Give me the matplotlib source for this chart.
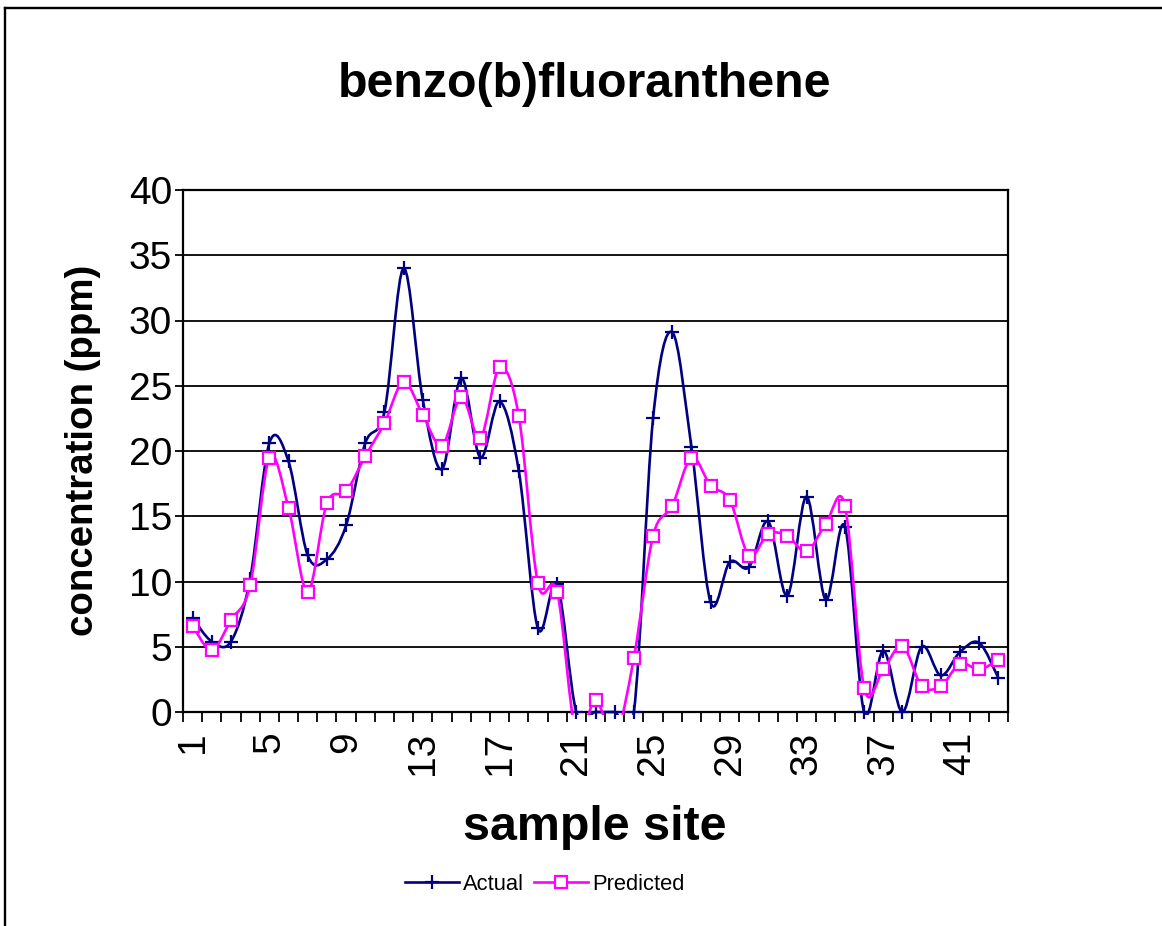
import matplotlib
matplotlib.use('Agg')
import matplotlib.pyplot as plt
from matplotlib.path import Path
from matplotlib.patches import PathPatch, Rectangle
from matplotlib.lines import Line2D
import numpy as np

plt.rcParams['font.family'] = ['Liberation Sans', 'DejaVu Sans']

sites = list(range(1, 44))
actual = [7.2, 5.4, 5.4, 10.2, 20.6, 19.2, 12.0, 11.7, 14.3, 20.6,
          23.0, 34.0, 23.9, 18.6, 25.6, 19.5, 23.8, 18.5, 6.4, 9.8,
          0.0, 0.0, 0.0, 0.0, 22.5, 29.1, 20.3, 8.4, 11.5, 11.1,
          14.6, 8.9, 16.5, 8.6, 14.2, 0.0, 4.7, 0.0, 5.0, 2.8,
          4.6, 5.3, 2.6]
predicted = [6.6, 4.75, 7.05, 9.7, 19.5, 15.65, 9.2, 16.0, 16.9, 19.6,
             22.15, 25.3, 22.75, 20.4, 24.15, 21.0, 26.4, 22.7, 9.85, 9.2,
             -1.8, 0.95, -2.0, 4.15, 13.5, 15.8, 19.5, 17.35, 16.25, 11.98,
             13.65, 13.5, 12.3, 14.4, 15.8, 1.86, 3.27, 5.07, 2.0, 2.0,
             3.7, 3.27, 3.98]
label_sites = [1, 5, 9, 13, 17, 21, 25, 29, 33, 37, 41]
yticks = [0, 5, 10, 15, 20, 25, 30, 35, 40]

NAVY = '#000080'
MAGENTA = '#FF00FF'


def smooth_path(xs, ys):
    pts = np.column_stack([xs, ys]).astype(float)
    n = len(pts)
    verts = [pts[0]]
    codes = [Path.MOVETO]
    for i in range(n - 1):
        p0 = pts[i - 1] if i > 0 else pts[i]
        p1 = pts[i]
        p2 = pts[i + 1]
        p3 = pts[i + 2] if i + 2 < n else pts[i + 1]
        c1 = p1 + (p2 - p0) / 6.0
        c2 = p2 - (p3 - p1) / 6.0
        verts += [c1, c2, p2]
        codes += [Path.CURVE4] * 3
    return Path(verts, codes)


W, H = 1162, 926
fig = plt.figure(figsize=(W / 100, H / 100), dpi=100)
fig.patch.set_facecolor('white')

ax = fig.add_axes([183 / W, 1 - 712 / H, (1008 - 183) / W, (712 - 190) / H])
ax.set_xlim(0.5, 43.5)
ax.set_ylim(0, 40)

# gridlines
ax.set_yticks(yticks)
ax.yaxis.grid(True, color='black', linewidth=1.3)
ax.set_axisbelow(True)

# clip region slightly taller than the plot area so lines at 0 stay visible
clip_rect = Rectangle((0, -0.005), 1, 1.01, transform=ax.transAxes,
                      facecolor='none', edgecolor='none')

# actual smoothed line
pa = PathPatch(smooth_path(sites, actual), fill=False, edgecolor=NAVY,
               linewidth=1.9, zorder=3, capstyle='round', joinstyle='round')
ax.add_patch(pa)
pa.set_clip_path(clip_rect)
ax.plot(sites, actual, linestyle='none', marker='+', markersize=9.5,
        markeredgewidth=1.6, color=NAVY, zorder=4, clip_on=False)

# predicted smoothed line
pp = PathPatch(smooth_path(sites, predicted), fill=False, edgecolor=MAGENTA,
               linewidth=1.9, zorder=5, capstyle='round', joinstyle='round')
ax.add_patch(pp)
pp.set_clip_path(clip_rect)
ax.plot(sites, predicted, linestyle='none', marker='s', markersize=8.5,
        markeredgewidth=1.6, markerfacecolor='white',
        markeredgecolor=MAGENTA, zorder=6)

for s in ax.spines.values():
    s.set_linewidth(1.6)
    s.set_color('black')

# x ticks: marks between categories, labels every 4th
ax.set_xticks([k + 0.5 for k in range(0, 44)])
ax.set_xticklabels([])
ax.set_xticks(label_sites, minor=True)
ax.set_xticklabels([str(v) for v in label_sites], minor=True, rotation=90,
                   fontsize=28)
ax.tick_params(axis='x', which='major', direction='out', length=7.5,
               width=1.3, color='black')
ax.tick_params(axis='x', which='minor', length=0, pad=14)
ax.tick_params(axis='y', which='major', direction='out', length=6,
               width=1.3, labelsize=28, pad=2)

# texts
fig.text(585 / W, 1 - 97 / H, 'benzo(b)fluoranthene', ha='center',
         va='baseline', fontsize=34.8, fontweight='bold')
fig.text(595 / W, 1 - 840 / H, 'sample site', ha='center', va='baseline',
         fontsize=34.8, fontweight='bold')
fig.text(83 / W, 1 - 450 / H, 'concentration (ppm)', ha='center',
         va='center', rotation=90, fontsize=27.6, fontweight='bold')

# legend
handles = [
    Line2D([], [], color=NAVY, linewidth=1.9, marker='+', markersize=9.5,
           markeredgewidth=1.6),
    Line2D([], [], color=MAGENTA, linewidth=1.9, marker='s',
           markersize=8.5, markeredgewidth=1.6, markerfacecolor='white',
           markeredgecolor=MAGENTA),
]
fig.legend(handles, ['Actual', 'Predicted'], loc='center',
           bbox_to_anchor=(545 / W, 1 - 884 / H), ncol=2, frameon=False,
           fontsize=15.8, handlelength=2.45, handletextpad=0.2,
           columnspacing=0.45, borderpad=0, borderaxespad=0)

# chart border (left and top)
fig.add_artist(Line2D([5 / W, 5 / W], [0, 1 - 7.8 / H], color='black',
                      linewidth=1.7, transform=fig.transFigure))
fig.add_artist(Line2D([5 / W, 1], [1 - 7.8 / H, 1 - 7.8 / H], color='black',
                      linewidth=1.7, transform=fig.transFigure))

fig.savefig('out.png', dpi=100)
